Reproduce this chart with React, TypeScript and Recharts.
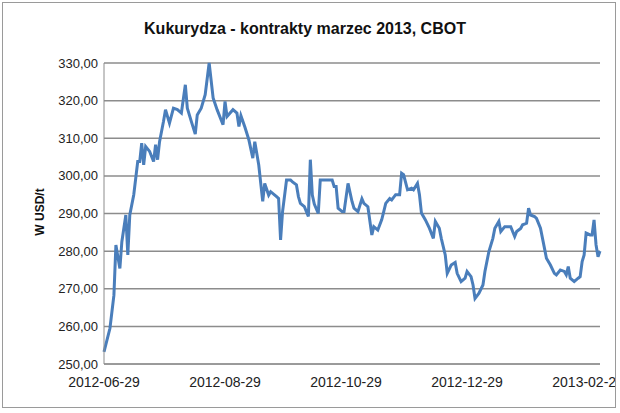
import React from 'react';
import { LineChart, Line, XAxis, YAxis, CartesianGrid } from 'recharts';

// day offsets counted from 2012-06-29 (trading days)
const days = [
  0, 3, 5, 6, 8, 9, 11, 12, 13, 15, 17, 18, 19, 20, 21, 23, 25, 26, 27, 28,
  30, 31, 33, 35, 37, 39, 41, 42, 44, 46, 47, 49, 51, 53, 55, 57, 60, 61, 62, 65,
  67, 68, 69, 71, 73, 75, 76, 78, 80, 81, 83, 84, 87, 88, 89, 90, 92, 94, 95, 97,
  98, 99, 101, 103, 104, 105, 106, 108, 109, 111, 115, 116, 117, 118, 120, 121, 123, 125, 126, 128,
  130, 131, 133, 135, 136, 138, 140, 141, 142, 144, 145, 147, 149, 150, 151, 153, 155, 156, 158, 159,
  160, 162, 164, 166, 167, 169, 170, 172, 173, 175, 177, 178, 180, 182, 183, 185, 186, 187, 189, 191,
  192, 194, 196, 197, 199, 200, 202, 203, 205, 207, 208, 210, 211, 213, 214, 215, 217, 218, 220, 222,
  223, 225, 227, 228, 230, 232, 233, 234, 235, 237, 239, 240, 241, 242, 243, 245, 246, 247, 248, 249,
  250,
];

// price, USD/t
const prices = [
  253.2, 259.5, 268.3, 281.6, 275.4, 282.5, 289.6, 279.0, 289.6, 295.0, 303.8, 303.8, 308.7, 302.9, 307.8, 306.5, 303.8, 308.3, 304.3, 309.1,
  314.5, 317.6, 314.0, 318.0, 317.6, 316.7, 324.2, 318.0, 314.5, 311.1, 316.2, 318.0, 321.6, 330.0, 320.7, 317.6, 313.6, 319.8, 315.8, 317.6,
  316.7, 313.1, 316.0, 313.0, 309.6, 304.7, 309.1, 302.9, 293.2, 298.0, 294.9, 295.8, 294.5, 294.0, 283.0, 290.5, 298.9, 298.9, 298.4, 297.6,
  294.5, 292.7, 291.8, 289.2, 304.3, 294.9, 292.5, 290.0, 298.9, 298.9, 298.9, 297.2, 297.2, 291.4, 290.5, 290.5, 298.0, 293.2, 291.4, 290.5,
  293.9, 292.7, 291.8, 284.3, 286.5, 285.6, 288.4, 290.5, 292.7, 294.0, 293.6, 295.0, 295.0, 300.7, 300.3, 296.3, 296.7, 296.3, 298.0, 295.0,
  290.1, 288.3, 286.1, 283.4, 287.9, 286.1, 283.4, 279.0, 274.1, 276.3, 277.0, 274.1, 271.9, 272.8, 274.6, 273.2, 271.0, 267.4, 268.8, 271.0,
  274.6, 279.9, 283.4, 286.1, 287.9, 285.2, 286.5, 286.5, 286.5, 283.9, 285.2, 286.0, 287.0, 287.4, 291.4, 289.6, 289.2, 288.7, 286.1, 280.8,
  278.1, 276.3, 274.1, 273.7, 275.0, 274.6, 273.7, 275.9, 272.8, 271.9, 272.8, 273.2, 277.2, 279.0, 284.8, 284.3, 284.3, 288.3, 281.7, 278.5,
  280.0,
];

const xTicks = [0, 61, 122, 183, 244];
const xTickLabels = ['2012-06-29', '2012-08-29', '2012-10-29', '2012-12-29', '2013-02-28'];
const yTicks = [250, 260, 270, 280, 290, 300, 310, 320, 330];

const title = 'Kukurydza - kontrakty marzec 2013, CBOT';
const yLabel = 'W USD/t';

const data = days.map((d, i) => ({ day: d, price: prices[i] }));

const font = '"Liberation Sans", Arial, sans-serif';

export default function App() {
  return (
    <div style={{ position: 'relative', width: 620, height: 413, background: '#fff', fontFamily: font }}>
      <style>{'body{margin:0}'}</style>
      <div
        style={{
          position: 'absolute',
          left: 2,
          top: 2,
          width: 614,
          height: 406,
          boxSizing: 'border-box',
          border: '1px solid #9a9a9a',
          overflow: 'hidden',
        }}
      >
        <div style={{ position: 'absolute', left: -3, top: -3 }}>
          <LineChart
            width={620}
            height={413}
            data={data}
            margin={{ top: 63, right: 20, left: 44, bottom: 19 }}
          >
            <CartesianGrid vertical={false} stroke="#8c8c8c" strokeWidth={1.5} />
            <XAxis
              dataKey="day"
              type="number"
              domain={[0, 250]}
              ticks={xTicks}
              tickFormatter={(v: number) => xTickLabels[xTicks.indexOf(v)] ?? ''}
              tickLine={false}
              tickSize={0}
              tickMargin={13}
              height={30}
              stroke="#8c8c8c"
              tick={{ fill: '#222', fontSize: 14, fontFamily: font }}
              interval={0}
            />
            <YAxis
              type="number"
              domain={[250, 330]}
              ticks={yTicks}
              tickFormatter={(v: number) => v.toFixed(2).replace('.', ',')}
              tickLine={false}
              tickSize={0}
              tickMargin={6}
              width={60}
              stroke="#8c8c8c"
              tick={{ fill: '#222', fontSize: 13, fontFamily: font }}
            />
            <Line
              type="linear"
              dataKey="price"
              stroke="#4a7ebb"
              strokeWidth={3}
              dot={false}
              activeDot={false}
              isAnimationActive={false}
            />
          </LineChart>
        </div>
      </div>
      <div
        style={{
          position: 'absolute',
          left: 0,
          top: 20,
          width: 610,
          textAlign: 'center',
          fontSize: 16,
          fontWeight: 'bold',
          color: '#111',
        }}
      >
        {title}
      </div>
      <div
        style={{
          position: 'absolute',
          left: 40,
          top: 212,
          transform: 'translate(-50%, -50%) rotate(-90deg)',
          fontSize: 12,
          fontWeight: 'bold',
          color: '#111',
          whiteSpace: 'nowrap',
        }}
      >
        {yLabel}
      </div>
    </div>
  );
}
